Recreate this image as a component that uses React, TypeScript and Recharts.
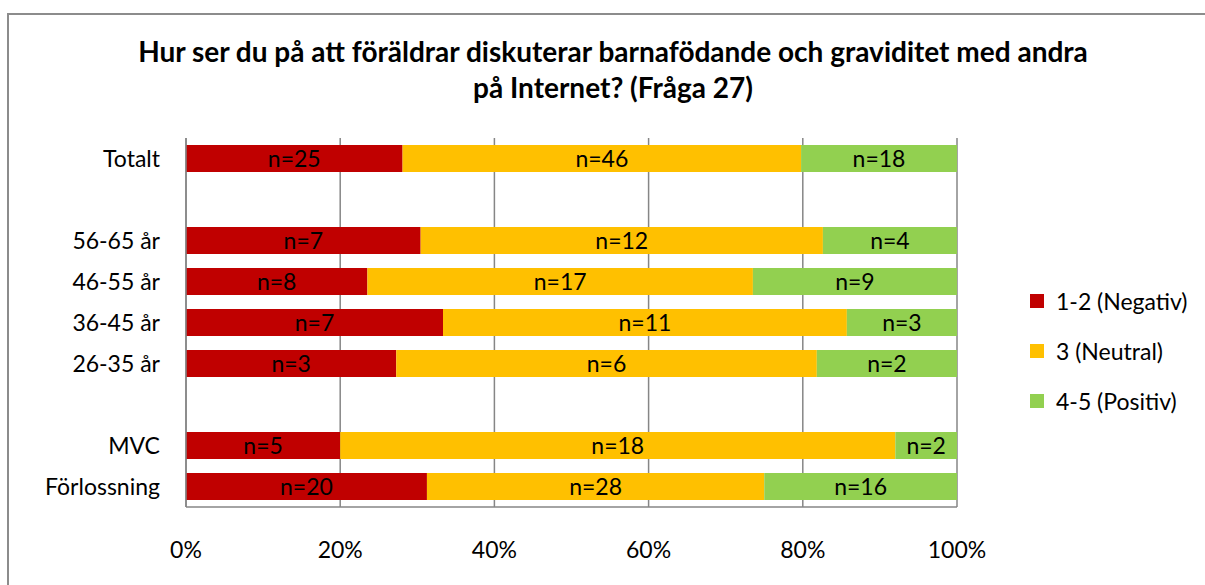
import * as React from "react"
import { BarChart, Bar, XAxis, YAxis, CartesianGrid, LabelList } from 'recharts';

// rows from top to bottom, empty strings are spacer rows
const groups = ['Totalt', '', '56-65 år', '46-55 år', '36-45 år', '26-35 år', '', 'MVC', 'Förlossning'];
// answer counts per row
const negativ = [25, 0, 7, 8, 7, 3, 0, 5, 20];
const neutral = [46, 0, 12, 17, 11, 6, 0, 18, 28];
const positiv = [18, 0, 4, 9, 3, 2, 0, 2, 16];
const pctTicks = [0, 0.2, 0.4, 0.6, 0.8, 1];

const series = [
    { key: 'neg', name: '1-2 (Negativ)', color: '#C00000' },
    { key: 'neu', name: '3 (Neutral)', color: '#FFC000' },
    { key: 'pos', name: '4-5 (Positiv)', color: '#92D050' },
];

const rows = groups.map((g, i) => ({
    id: 'r' + i,
    label: g,
    neg: negativ[i],
    neu: neutral[i],
    pos: positiv[i],
}));

const FONT = 'Lato, "Open Sans", sans-serif';
const GRID = '#868686';
const FS = 23;

const LegendBox = () => (
    <div style={{ position: 'absolute', left: 1030, top: 276, fontFamily: FONT, fontSize: FS, color: '#000' }}>
        {series.map(s => (
            <div key={s.key} style={{ display: 'flex', alignItems: 'center', height: 50 }}>
                <span style={{ width: 14, height: 14, background: s.color, marginRight: 12, display: 'inline-block' }} />
                <span>{s.name}</span>
            </div>
        ))}
    </div>
);

export default function App() {
    return (
        <div style={{ position: 'absolute', left: 0, top: 0, width: 1205, height: 585, background: '#fff', overflow: 'hidden' }}>
            <div style={{ position: 'absolute', left: 7, top: 13, width: 1205, height: 620, border: '2px solid #8c8c8c' }} />
            <div style={{
                position: 'absolute', left: 0, top: 33, width: 1226, textAlign: 'center',
                fontFamily: FONT, fontWeight: 700, fontSize: 28, lineHeight: '36px', color: '#000'
            }}>
                Hur ser du på att föräldrar diskuterar barnafödande och graviditet med andra<br />
                på Internet? (Fråga 27)
            </div>
            <div style={{ position: 'absolute', left: 0, top: 0 }}>
                <BarChart
                    width={1205}
                    height={585}
                    data={rows}
                    layout="vertical"
                    stackOffset="expand"
                    barCategoryGap="17%"
                    margin={{ top: 138, right: 248, bottom: 0, left: 0 }}
                >
                    <CartesianGrid horizontal={false} stroke={GRID} strokeWidth={1.5} />
                    <XAxis
                        type="number"
                        domain={[0, 1]}
                        ticks={pctTicks}
                        tickFormatter={(v: number) => `${Math.round(v * 100)}%`}
                        axisLine={{ stroke: GRID, strokeWidth: 1.5 }}
                        tickLine={false}
                        tickSize={0}
                        tickMargin={35}
                        tick={{ fill: '#000', fontSize: FS, fontFamily: FONT }}
                        height={78}
                    />
                    <YAxis
                        type="category"
                        dataKey="id"
                        tickFormatter={(v: string, i: number) => groups[i]}
                        axisLine={{ stroke: GRID, strokeWidth: 1.5 }}
                        tickLine={false}
                        tickSize={0}
                        tickMargin={26}
                        width={186}
                        interval={0}
                        tick={{ fill: '#000', fontSize: FS, fontFamily: FONT }}
                    />
                    {series.map(s => (
                        <Bar key={s.key} dataKey={s.key} name={s.name} stackId="a" fill={s.color} isAnimationActive={false}>
                            <LabelList
                                dataKey={s.key}
                                position="center"
                                formatter={(v: any) => (v ? `n=${v}` : '')}
                                style={{ fill: '#000', fontSize: FS, fontFamily: FONT }}
                            />
                        </Bar>
                    ))}
                </BarChart>
            </div>
            <LegendBox />
        </div>
    );
}
